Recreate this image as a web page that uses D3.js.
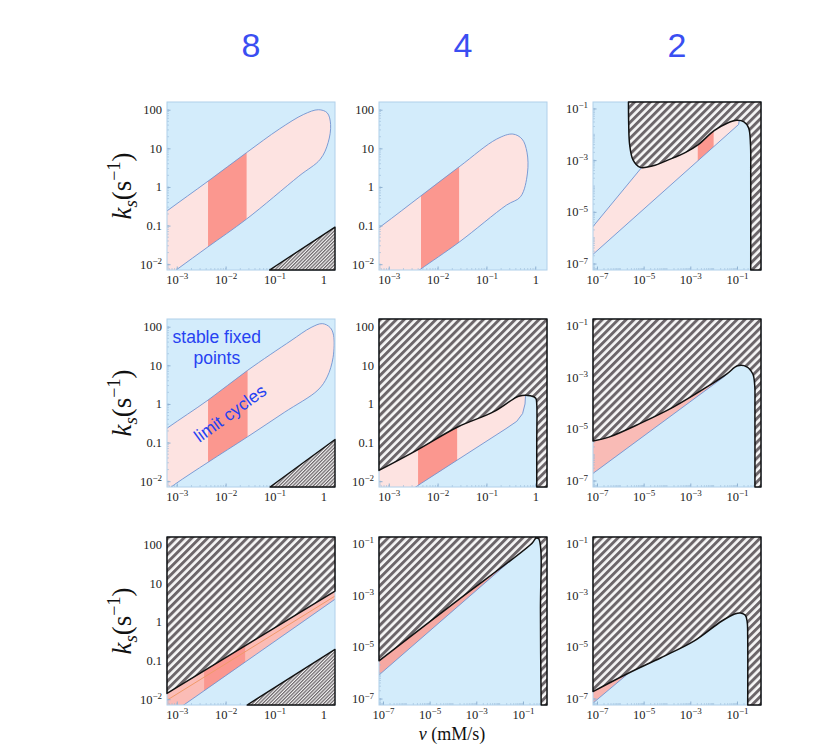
<!DOCTYPE html>
<html>
<head>
<meta charset="utf-8">
<script src="https://cdn.jsdelivr.net/npm/d3@7"></script>
<style>
  body { margin: 0; background: #fff; }
</style>
</head>
<body>
<script>
// column headers
var headers = ["8", "4", "2"];

// axis ticks + labels
var ticksA_x = [1e-3, 1e-2, 1e-1, 1];
var labelsA_x = ["10^\u22123", "10^\u22122", "10^\u22121", "1"];
var ticksA_y = [1e-2, 0.1, 1, 10, 100];
var labelsA_y = ["10^\u22122", "0.1", "1", "10", "100"];
var ticksB_x = [1e-7, 1e-5, 1e-3, 1e-1];
var labelsB_x = ["10^\u22127", "10^\u22125", "10^\u22123", "10^\u22121"];
var ticksB_y = [1e-7, 1e-5, 1e-3, 1e-1];
var labelsB_y = ["10^\u22127", "10^\u22125", "10^\u22123", "10^\u22121"];

// axis extents, log10
var domA = {x: [-3.2, 0.24], y: [-2.15, 2.2]};
var domB = {x: [-7.17, 0.03], y: [-7.25, -0.75]};

// region boundaries, points are [log10 nu, log10 ks]
var p11_pink = [[-4.5,-1.8],[-3.9,-1.28],[-3.2,-0.62],[-2.36,0.15],[-1.57,0.89],[-0.9,1.5],[-0.4,1.88],[-0.1,2.0],[0.08,1.92],[0.15,1.62],[0.1,1.15],[-0.06,0.72],[-0.5,0.28],[-1.57,-0.83],[-2.36,-1.55],[-2.98,-2.12],[-3.5,-2.6],[-4.5,-3.0]];
var p11_band = [-2.36, -1.57];
var p11_tri = [[-1.1,-2.15],[0.24,-1.04]];

var p12_pink = [[-4.5,-2.3],[-3.8,-1.6],[-3.14,-1.0],[-2.32,-0.21],[-1.54,0.54],[-0.79,1.24],[-0.46,1.37],[-0.27,1.24],[-0.17,0.9],[-0.16,0.36],[-0.3,-0.25],[-0.59,-0.47],[-1.56,-1.43],[-2.35,-2.13],[-2.7,-2.45],[-3.5,-3.0],[-4.5,-3.0]];
var p12_band = [-2.34, -1.56];

var p13_hatch = [[-5.65,-0.75],[-5.64,-1.6],[-5.6,-2.4],[-5.45,-3.0],[-5.15,-3.28],[-4.6,-3.22],[-3.94,-2.99],[-3.2,-2.7],[-2.66,-2.4],[-1.98,-1.86],[-1.4,-1.56],[-1.0,-1.46],[-0.7,-1.52],[-0.5,-1.75],[-0.42,-2.4],[-0.41,-3.5],[-0.41,-7.25]];
var p13_pink = [[-7.3,-5.71],[-5.1,-3.3],[-3.0,-2.3],[-1.2,-1.35],[-0.9,-1.45],[-0.93,-1.62],[-7.3,-6.75]];
var p13_band = [-2.68, -2.0];

var p21_pink = [[-4.5,-1.9],[-3.9,-1.27],[-3.19,-0.62],[-2.36,0.1],[-1.55,0.87],[-0.66,1.64],[-0.25,1.98],[-0.02,2.08],[0.14,1.98],[0.21,1.78],[0.2,1.2],[0.08,0.7],[-0.11,0.36],[-0.8,-0.22],[-1.55,-0.85],[-2.36,-1.51],[-3.04,-2.08],[-3.6,-2.6],[-4.5,-3.0]];
var p21_band = [-2.36, -1.55];
var p21_tri = [[-1.09,-2.15],[0.24,-0.92]];

var p22_hatch = [[-3.2,-1.72],[-2.43,-1.2],[-1.58,-0.59],[-0.85,-0.2],[-0.46,0.12],[-0.34,0.2],[-0.1,0.21],[0.01,0.15],[0.03,0.0],[0.03,-1.0],[0.03,-2.15]];
var p22_pink = [[-3.6,-2.7],[-3.6,-1.2],[-0.3,0.6],[-0.2,0.22],[-0.21,0.0],[-0.26,-0.25],[-0.38,-0.45],[-0.6,-0.64],[-2.33,-2.05],[-3.1,-2.7]];
var p22_band = [-2.4, -1.6];

var p23_hatch = [[-7.17,-5.47],[-6.49,-5.32],[-5.1,-4.77],[-3.71,-4.15],[-2.27,-3.37],[-1.43,-2.87],[-0.97,-2.56],[-0.58,-2.6],[-0.32,-2.88],[-0.24,-3.3],[-0.23,-4.2],[-0.23,-7.25]];
var p23_pink = [[-7.3,-5.2],[-1.4,-2.6],[-1.5,-2.95],[-7.3,-6.81]];

var p31_hatch = [[-3.2,-1.85],[0.24,0.8]];
var p31_pink = [[-3.4,-1.8],[0.4,1.1],[0.4,0.73],[-3.4,-2.63]];
var p31_orange = [[-3.27,-2.08],[0.29,0.71]];
var p31_band = [-2.44, -1.6];
var p31_tri = [[-1.56,-2.15],[0.24,-0.71]];

var p32_hatch = [[-7.17,-5.54],[-3.8,-3.2],[-0.6,-0.98],[-0.45,-0.8],[-0.33,-0.82],[-0.25,-1.1],[-0.22,-1.6],[-0.25,-3.5],[-0.22,-7.25]];
var p32_pink = [[-7.4,-5.3],[-0.5,-0.5],[-0.62,-0.95],[-7.4,-6.27]];

var p33_hatch = [[-7.17,-6.73],[-5.7,-6.04],[-4.26,-5.42],[-2.83,-4.77],[-1.65,-4.0],[-1.1,-3.73],[-0.85,-3.69],[-0.64,-3.78],[-0.56,-4.05],[-0.54,-4.6],[-0.54,-7.25]];
var p33_pink = [[-7.4,-6.6],[-5.6,-5.9],[-5.75,-6.1],[-7.4,-7.35]];

// colours
var BLUE = "#d3ecfb", BLUE_EDGE = "#b0d0ea", PINK = "#fde3e1", SALMON = "#fb978f";
var EDGE = "#7093d0", HATCH = "#6c666a", TEXTBLUE = "#2642f2";

var panels = [
  {r:0, c:0, t:"A", pink:p11_pink, blob:true, band:p11_band, tri:p11_tri},
  {r:0, c:1, t:"A", pink:p12_pink, blob:true, band:p12_band},
  {r:0, c:2, t:"B", pink:p13_pink, band:p13_band, hatch:p13_hatch, corners:["br","tr"]},
  {r:1, c:0, t:"A", pink:p21_pink, blob:true, band:p21_band, tri:p21_tri},
  {r:1, c:1, t:"A", pink:p22_pink, band:p22_band, hatch:p22_hatch, corners:["br","tr","tl"]},
  {r:1, c:2, t:"B", pink:p23_pink, fill:"#f9bbb6", hatch:p23_hatch, corners:["br","tr","tl"]},
  {r:2, c:0, t:"A", pink:p31_pink, fill:"#fbbcb6", band:p31_band, line:p31_orange, hatch:p31_hatch, straight:true, corners:["tr","tl"], tri:p31_tri},
  {r:2, c:1, t:"B", pink:p32_pink, fill:"#f6a8a2", hatch:p32_hatch, corners:["br","tr","tl"]},
  {r:2, c:2, t:"B", pink:p33_pink, fill:"#f7b3ae", hatch:p33_hatch, corners:["br","tr","tl"]}
];

var colX = [167, 379, 593], rowY = [102, 319, 537];
var pw = 168, ph = 168;

var svg = d3.select("body").append("svg")
    .attr("width", 830)
    .attr("height", 750);
var defs = svg.append("defs");

// stripe patterns, wide and fine
function stripes(id, size) {
  var pat = defs.append("pattern")
      .attr("id", id)
      .attr("patternUnits", "userSpaceOnUse")
      .attr("width", size).attr("height", size)
      .attr("patternTransform", "rotate(45)");
  pat.append("rect").attr("width", size).attr("height", size).attr("fill", "#f6f6f6");
  pat.append("rect").attr("width", size * 0.52).attr("height", size).attr("fill", HATCH);
}
stripes("hatchBig", 5.6);
stripes("hatchFine", 2.4);

function cornerPt(k, dom) {
  return [k[1] == "l" ? dom.x[0] : dom.x[1], k[0] == "t" ? dom.y[1] : dom.y[0]];
}

function labelSup(sel) {
  sel.selectAll(".tick text").each(function() {
    var t = d3.select(this), s = t.text();
    if (s.indexOf("^") < 0) return;
    var parts = s.split("^");
    t.text(null);
    t.append("tspan").text(parts[0]);
    t.append("tspan").attr("dy", "-0.5em").attr("font-size", "0.72em").text(parts[1]);
  });
}

panels.forEach(function(p, i) {
  var dom = p.t == "A" ? domA : domB;
  var sx = d3.scaleLog().domain([Math.pow(10, dom.x[0]), Math.pow(10, dom.x[1])]).range([0, pw]);
  var sy = d3.scaleLog().domain([Math.pow(10, dom.y[0]), Math.pow(10, dom.y[1])]).range([ph, 0]);
  var px = function(d) { return sx(Math.pow(10, d[0])); };
  var py = function(d) { return sy(Math.pow(10, d[1])); };

  var g = svg.append("g").attr("transform", "translate(" + colX[p.c] + "," + rowY[p.r] + ")");
  defs.append("clipPath").attr("id", "clip" + i)
    .append("rect").attr("width", pw).attr("height", ph);
  var inner = g.append("g").attr("clip-path", "url(#clip" + i + ")");

  inner.append("rect").attr("width", pw).attr("height", ph).attr("fill", BLUE);

  // limit cycle region
  var pinkLine = d3.line().x(px).y(py)
      .curve(p.blob ? d3.curveCatmullRomClosed.alpha(0.5) : d3.curveLinearClosed);
  var pinkD = pinkLine(p.pink);
  inner.append("path").attr("d", pinkD).attr("fill", p.fill || PINK);

  if (p.band) {
    defs.append("clipPath").attr("id", "pclip" + i).append("path").attr("d", pinkD);
    inner.append("g").attr("clip-path", "url(#pclip" + i + ")")
      .append("rect")
        .attr("x", sx(Math.pow(10, p.band[0])))
        .attr("width", sx(Math.pow(10, p.band[1])) - sx(Math.pow(10, p.band[0])))
        .attr("y", 0).attr("height", ph)
        .attr("fill", SALMON);
  }
  inner.append("path").attr("d", pinkD)
      .attr("fill", "none").attr("stroke", EDGE).attr("stroke-width", 0.9);

  if (p.line) {
    inner.append("path").attr("d", d3.line().x(px).y(py)(p.line))
        .attr("fill", "none").attr("stroke", "#f19a6a").attr("stroke-width", 1);
  }

  // minor ticks inside the frame
  var minX = sx.ticks(p.t == "A" ? 30 : 10), minY = sy.ticks(p.t == "A" ? 30 : 10);
  inner.selectAll(".mx").data(minX).enter().append("line")
      .attr("x1", sx).attr("x2", sx).attr("y1", ph).attr("y2", ph - 2)
      .attr("stroke", "#9bbbd8").attr("stroke-width", 0.6);
  inner.selectAll(".my").data(minY).enter().append("line")
      .attr("y1", sy).attr("y2", sy).attr("x1", 0).attr("x2", 2)
      .attr("stroke", "#9bbbd8").attr("stroke-width", 0.6);

  // axes
  var xa = g.append("g").attr("transform", "translate(0," + ph + ")")
      .call(d3.axisBottom(sx)
        .tickValues(p.t == "A" ? ticksA_x : ticksB_x)
        .tickFormat(function(d, k) { return (p.t == "A" ? labelsA_x : labelsB_x)[k]; })
        .tickSizeInner(-3.5).tickSizeOuter(0).tickPadding(5));
  var ya = g.append("g")
      .call(d3.axisLeft(sy)
        .tickValues(p.t == "A" ? ticksA_y : ticksB_y)
        .tickFormat(function(d, k) { return (p.t == "A" ? labelsA_y : labelsB_y)[k]; })
        .tickSizeInner(-3.5).tickSizeOuter(0).tickPadding(5));
  [xa, ya].forEach(function(a) {
    a.select(".domain").remove();
    a.attr("font-family", "Liberation Serif, serif").attr("font-size", 12.5).attr("color", "#222");
    a.selectAll(".tick line").attr("stroke", "#8fb1d2");
    labelSup(a);
  });

  g.append("rect").attr("width", pw).attr("height", ph)
      .attr("fill", "none").attr("stroke", BLUE_EDGE).attr("stroke-width", 1);

  // unphysical region
  if (p.hatch) {
    var hl = d3.line().x(px).y(py)
        .curve(p.straight ? d3.curveLinear : d3.curveCatmullRom.alpha(0.5));
    var d = hl(p.hatch);
    p.corners.forEach(function(k) {
      var c = cornerPt(k, dom);
      d += "L" + px(c) + "," + py(c);
    });
    d += "Z";
    g.append("path").attr("d", d)
        .attr("fill", "url(#hatchBig)")
        .attr("stroke", "#111").attr("stroke-width", 1.5)
        .attr("stroke-linejoin", "round");
  }
  if (p.tri) {
    var td = d3.line().x(px).y(py)(p.tri) + "L" + px(cornerPt("br", dom)) + "," + py(cornerPt("br", dom)) + "Z";
    g.append("path").attr("d", td)
        .attr("fill", "url(#hatchFine)")
        .attr("stroke", "#111").attr("stroke-width", 1.4)
        .attr("stroke-linejoin", "round");
  }

  // annotations in the middle-left panel
  if (p.r == 1 && p.c == 0) {
    var ann = g.append("g").attr("font-family", "Liberation Sans, Arial, sans-serif")
        .attr("font-size", 17.5).attr("fill", TEXTBLUE).attr("text-anchor", "middle");
    ann.append("text").attr("x", sx(Math.pow(10, -2.18))).attr("y", sy(Math.pow(10, 1.58))).text("stable fixed");
    ann.append("text").attr("x", sx(Math.pow(10, -2.18))).attr("y", sy(Math.pow(10, 1.03))).text("points");
    ann.append("text")
        .attr("transform", "translate(" + sx(Math.pow(10, -1.91)) + "," + sy(Math.pow(10, -0.24)) + ") rotate(-36)")
        .attr("dy", "0.35em").text("limit cycles");
  }
});

// column headers
svg.selectAll(".hdr").data(headers).enter().append("text")
    .attr("class", "hdr")
    .attr("x", function(d, i) { return colX[i] + pw / 2; })
    .attr("y", 57)
    .attr("text-anchor", "middle")
    .attr("font-family", "Liberation Sans, Arial, sans-serif")
    .attr("font-size", 34)
    .attr("fill", "#3a4ef2")
    .text(function(d) { return d; });

// y labels
rowY.forEach(function(ry) {
  var t = svg.append("text")
      .attr("transform", "translate(131," + (ry + ph / 2) + ") rotate(-90)")
      .attr("text-anchor", "middle")
      .attr("font-family", "Liberation Serif, serif")
      .attr("font-size", 27)
      .attr("fill", "#111");
  t.append("tspan").attr("font-style", "italic").text("k");
  t.append("tspan").attr("font-style", "italic").attr("font-size", 19).attr("dy", 6).text("s");
  t.append("tspan").attr("dy", -6).text("(s");
  t.append("tspan").attr("font-size", 18).attr("dy", -11).text("\u22121");
  t.append("tspan").attr("dy", 11).text(")");
});

// x label
var xl = svg.append("text")
    .attr("x", 452).attr("y", 740)
    .attr("text-anchor", "middle")
    .attr("font-family", "Liberation Serif, serif")
    .attr("font-size", 18)
    .attr("fill", "#111");
xl.append("tspan").attr("font-style", "italic").text("\u03bd");
xl.append("tspan").text(" (mM/s)");
</script>
</body>
</html>
